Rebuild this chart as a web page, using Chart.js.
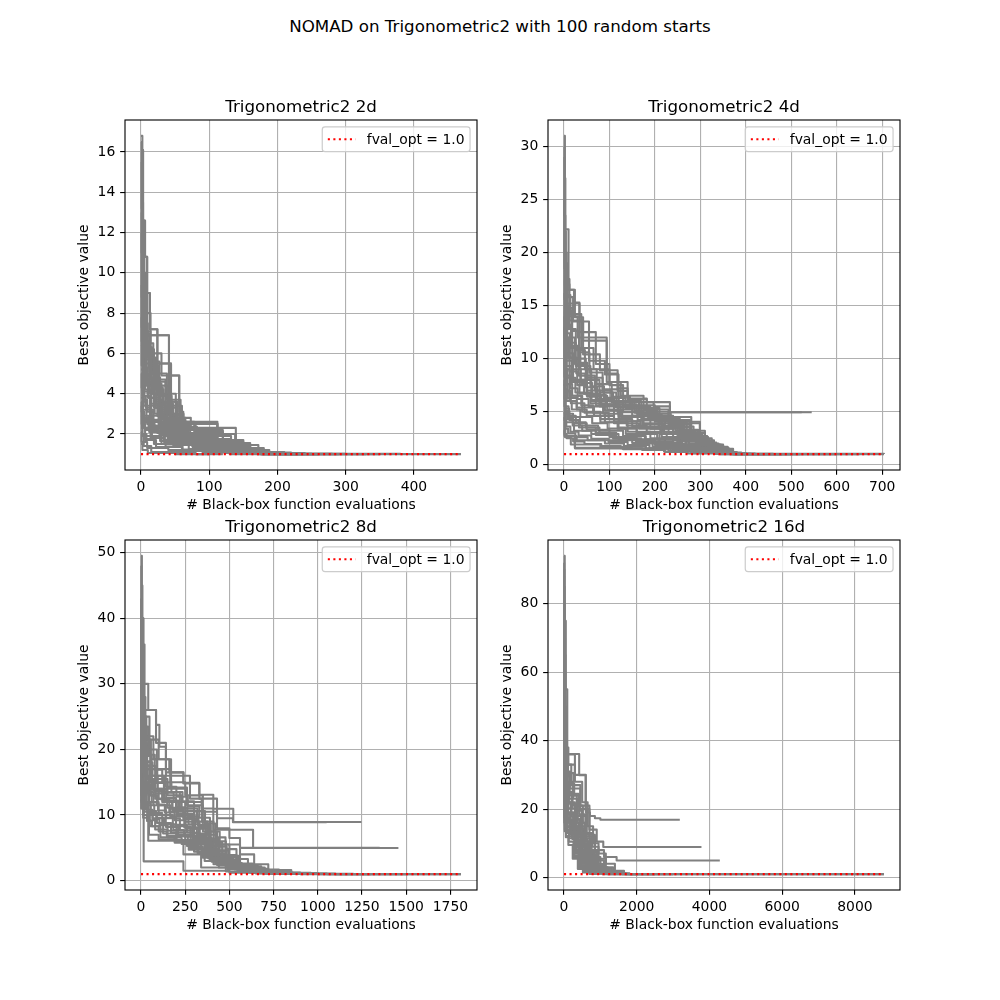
<!DOCTYPE html>
<html><head><meta charset="utf-8">
<script src="https://cdn.jsdelivr.net/npm/chart.js@4.4.1/dist/chart.umd.min.js"></script>
<style>
html,body{margin:0;padding:0;background:#fff;}
body{width:1000px;height:1000px;position:relative;overflow:hidden;font-family:"DejaVu Sans",sans-serif;}
#sup{position:absolute;left:0;width:1000px;top:18.4px;text-align:center;font-size:16.7px;line-height:1;color:#000;white-space:nowrap;}
canvas{position:absolute;}
</style></head><body>
<div id="sup">NOMAD on Trigonometric2 with 100 random starts</div>
<canvas id="c0"></canvas><canvas id="c1"></canvas><canvas id="c2"></canvas><canvas id="c3"></canvas>
<script>
// ---------------- data ----------------
const FVAL = 1.0;
const titles = ['Trigonometric2 2d','Trigonometric2 4d','Trigonometric2 8d','Trigonometric2 16d'];
const xLabel = '# Black-box function evaluations';
const yLabel = 'Best objective value';
const legendLabel = 'fval_opt = 1.0';

const ticks2dX = [0,100,200,300,400];
const ticks2dY = [2,4,6,8,10,12,14,16];
const ticks4dX = [0,100,200,300,400,500,600,700];
const ticks4dY = [0,5,10,15,20,25,30];
const ticks8dX = [0,250,500,750,1000,1250,1500,1750];
const ticks8dY = [0,10,20,30,40,50];
const ticks16dX = [0,2000,4000,6000,8000];
const ticks16dY = [0,20,40,60,80];

// each run: [evaluation, best value so far] at every improvement
const runs2d = [
 [[0,16.8],[2,16.1],[3,8.6],[7,4.4],[15,2.3],[35,1.6],[90,1.15],[160,1.03],[213,1.0],[469,1.0]],
 [[0,16.1],[3,12.6],[6,10.8],[9,6.9],[41,3.4],[60,2.2],[120,1.3],[180,1.02],[300,1.0]],
 [[0,12.6],[5,9.0],[13,7.2],[24,5.5],[44,2.5],[112,1.5],[150,1.05],[230,1.0]],
 [[0,10.8],[9,8.0],[14,6.0],[30,4.9],[56,2.6],[78,1.9],[132,1.2],[170,1.0],[260,1.0]],
 [[0,9.0],[13,7.2],[24,4.0],[51,3.0],[62,2.6],[112,1.6],[150,1.05],[210,1.0]],
 [[0,8.2],[6,6.9],[41,3.0],[62,2.3],[139,1.3],[174,1.02],[280,1.0]],
 [[0,7.5],[4,5.5],[44,4.9],[56,3.1],[62,2.5],[112,2.0],[139,1.1],[200,1.0]],
 [[0,6.8],[3,4.1],[20,3.6],[51,2.0],[138,1.7],[150,1.05],[240,1.0]],
 [[0,6.0],[2,3.2],[18,2.4],[40,1.8],[100,1.4],[160,1.04],[190,1.0]],
 [[0,5.2],[5,4.5],[30,3.9],[45,2.2],[85,1.75],[132,1.2],[175,1.0],[350,1.0]],
 [[0,4.6],[4,3.4],[25,2.9],[35,2.0],[75,1.5],[120,1.1],[200,1.0]],
 [[0,3.8],[3,2.6],[12,2.1],[55,1.6],[95,1.3],[150,1.08],[220,1.0]],
 [[0,3.0],[2,1.9],[30,1.5],[70,1.25],[140,1.05],[180,1.0]],
 [[0,2.4],[6,1.7],[22,1.35],[60,1.15],[130,1.0],[160,1.0]],
 [[0,1.9],[4,1.4],[15,1.1],[80,1.0],[120,1.0]],
 [[0,1.5],[2,1.2],[10,1.05],[50,1.0],[100,1.0]],
 [[0,14.2],[2,7.8],[8,5.0],[20,3.0],[48,1.9],[100,1.3],[165,1.02],[250,1.0]],
 [[0,13.5],[3,10.0],[7,7.0],[12,4.5],[28,2.8],[65,1.8],[105,1.2],[185,1.0],[330,1.0]],
 [[0,11.5],[4,6.3],[16,5.0],[38,3.7],[58,2.2],[98,1.45],[172,1.05],[215,1.0]],
 [[0,9.8],[5,5.8],[22,4.6],[36,3.3],[52,1.85],[90,1.55],[145,1.1],[190,1.0]],
 [[0,8.6],[7,7.1],[14,4.8],[28,3.0],[42,2.1],[70,1.6],[118,1.15],[178,1.0],[290,1.0]],
 [[0,7.0],[3,6.2],[19,4.3],[32,2.7],[48,2.4],[72,1.7],[128,1.12],[185,1.0]],
 [[0,5.6],[3,5.0],[10,3.8],[26,2.5],[68,1.9],[110,1.5],[155,1.05],[205,1.0]],
 [[0,4.2],[2,3.6],[8,2.8],[16,2.3],[45,1.7],[88,1.35],[135,1.06],[170,1.0]],
 [[0,3.4],[1,2.9],[11,2.2],[27,1.95],[64,1.45],[105,1.2],[160,1.0],[240,1.0]],
 [[0,2.7],[4,2.3],[14,1.8],[34,1.55],[78,1.3],[125,1.1],[195,1.0]],
 [[0,2.1],[1,1.6],[9,1.3],[40,1.2],[90,1.1],[150,1.0]],
 [[0,12.0],[1,6.6],[4,3.9],[13,2.6],[33,1.7],[75,1.4],[115,1.1],[168,1.02],[380,1.0]],
 [[0,15.5],[1,11.0],[4,7.5],[10,5.8],[19,3.3],[37,2.2],[66,1.5],[108,1.15],[176,1.0],[230,1.0]],
 [[0,14.8],[2,9.5],[5,6.6],[11,5.3],[21,4.2],[33,3.5],[47,2.35],[82,1.65],[127,1.2],[182,1.0]],
 [[0,13.0],[1,8.8],[3,6.4],[8,4.7],[17,4.0],[29,3.2],[43,2.6],[67,1.8],[112,1.25],[165,1.0]],
 [[0,11.0],[2,7.9],[6,6.1],[12,5.1],[23,3.9],[39,2.9],[57,2.0],[95,1.5],[146,1.08],[198,1.0],[260,1.0]],
 [[0,10.2],[3,7.6],[8,6.5],[18,5.6],[27,4.4],[40,3.6],[53,2.8],[73,2.2],[100,1.7],[142,1.2],[188,1.0]],
 [[0,9.4],[1,7.3],[5,5.9],[14,5.4],[25,4.7],[36,3.0],[50,2.5],[80,2.1],[120,1.55],[160,1.1],[210,1.0]],
 [[0,8.8],[2,6.7],[7,5.7],[16,4.5],[27,3.4],[38,2.4],[60,1.9],[96,1.4],[137,1.1],[180,1.0]],
 [[0,7.8],[1,6.4],[4,5.3],[9,4.6],[20,3.7],[31,3.1],[43,2.3],[66,1.7],[103,1.35],[148,1.05],[195,1.0]],
 [[0,7.2],[2,5.9],[6,4.9],[13,4.0],[23,3.5],[35,2.8],[49,2.0],[77,1.6],[116,1.25],[158,1.0]],
 [[0,6.4],[1,5.4],[5,4.6],[11,3.8],[21,3.3],[30,2.6],[44,1.95],[63,1.65],[99,1.3],[140,1.05],[185,1.0]],
 [[0,5.9],[2,4.8],[6,4.2],[15,3.5],[24,2.9],[37,2.3],[54,1.75],[86,1.4],[126,1.15],[170,1.0]],
 [[0,5.0],[1,4.3],[4,3.7],[9,3.1],[18,2.7],[29,2.2],[46,1.8],[72,1.5],[110,1.2],[150,1.0]],
 [[0,4.4],[2,3.9],[7,3.3],[14,2.9],[26,2.4],[41,2.0],[62,1.55],[93,1.3],[136,1.1],[176,1.0]],
 [[0,3.6],[1,3.1],[5,2.7],[12,2.4],[24,2.05],[39,1.75],[58,1.45],[87,1.25],[124,1.05],[165,1.0]],
 [[0,3.2],[3,2.8],[9,2.5],[20,2.15],[33,1.9],[52,1.6],[81,1.35],[118,1.15],[160,1.0]],
 [[0,2.9],[1,2.5],[6,2.2],[16,1.85],[28,1.65],[47,1.45],[76,1.28],[113,1.08],[155,1.0]],
 [[0,2.3],[2,2.0],[8,1.75],[19,1.5],[36,1.38],[61,1.22],[98,1.1],[140,1.0]],
 [[0,16.5],[1,13.2],[2,10.2],[4,8.1],[8,6.3],[14,4.7],[26,3.6],[42,2.7],[64,2.05],[101,1.6],[133,1.3],[164,1.06],[205,1.0]]
];

const runs4d = [
 [[0,31.0],[2,22.2],[10,17.0],[12,16.5],[22,15.3],[34,9.0],[60,6.0],[120,3.5],[250,1.8],[350,1.2],[380,1.0],[704,1.0]],
 [[0,27.0],[3,16.5],[24,13.9],[42,11.7],[94,7.8],[140,5.9],[197,5.5],[233,4.95],[545,4.95]],
 [[0,22.0],[4,17.5],[12,13.6],[42,10.4],[79,8.9],[118,6.96],[140,6.24],[182,5.9],[233,4.95],[523,4.95]],
 [[0,19.0],[3,14.0],[30,12.0],[55,9.8],[90,8.5],[120,6.0],[170,4.2],[277,3.0],[310,2.0],[340,1.3],[372,1.02],[460,1.0]],
 [[0,17.0],[5,15.2],[34,12.5],[70,9.5],[100,7.5],[130,5.6],[200,4.05],[299,2.0],[330,1.4],[370,1.0],[600,1.0]],
 [[0,15.0],[2,10.5],[20,8.0],[50,6.5],[95,5.2],[150,4.6],[233,3.8],[277,2.6],[317,1.5],[360,1.05],[420,1.0]],
 [[0,13.0],[1,9.0],[12,6.5],[40,5.0],[80,4.3],[150,3.6],[220,2.9],[265,2.2],[317,1.3],[365,1.0],[500,1.0]],
 [[0,11.0],[2,8.2],[25,6.8],[60,6.1],[110,5.7],[160,4.8],[210,3.4],[260,2.4],[300,1.6],[355,1.05],[390,1.0]],
 [[0,9.5],[3,7.0],[15,5.8],[45,4.9],[90,4.0],[140,3.1],[190,2.5],[250,1.9],[320,1.2],[370,1.0]],
 [[0,8.0],[1,5.5],[10,4.5],[35,3.7],[75,3.2],[130,2.7],[180,2.2],[240,1.7],[300,1.25],[345,1.0],[440,1.0]],
 [[0,6.5],[2,4.8],[20,3.9],[50,3.3],[100,2.6],[160,2.1],[220,1.75],[290,1.3],[350,1.05],[380,1.0]],
 [[0,5.5],[4,4.0],[22,3.2],[60,2.9],[120,2.4],[200,1.9],[260,1.5],[330,1.1],[375,1.0]],
 [[0,4.5],[1,2.7],[24,1.54],[150,1.5],[240,1.3],[330,1.05],[360,1.0]],
 [[0,3.8],[3,2.7],[28,2.3],[200,1.9],[265,1.4],[340,1.08],[372,1.0],[520,1.0]],
 [[0,3.0],[2,2.6],[15,1.9],[80,1.7],[180,1.55],[280,1.2],[360,1.0]],
 [[0,2.7],[24,1.6],[130,1.45],[220,1.25],[320,1.05],[350,1.0]],
 [[0,24.0],[2,19.0],[8,15.8],[20,13.5],[55,12.0],[94,8.6],[118,7.2],[140,6.2],[182,5.0],[230,3.9],[299,2.3],[330,1.5],[372,1.02],[704,1.0]],
 [[0,21.0],[3,16.0],[14,14.2],[38,11.0],[65,9.0],[100,7.8],[125,6.5],[175,5.2],[230,4.5],[280,3.2],[310,1.9],[350,1.15],[390,1.0]],
 [[0,18.0],[2,12.8],[18,10.0],[48,8.2],[85,6.8],[115,5.5],[165,4.7],[215,3.7],[265,2.8],[305,1.8],[345,1.1],[375,1.0],[650,1.0]],
 [[0,16.0],[4,11.5],[26,9.3],[58,7.4],[88,6.3],[135,5.3],[185,4.4],[240,3.5],[280,2.5],[325,1.7],[360,1.1],[400,1.0]],
 [[0,14.0],[1,12.0],[9,10.0],[32,8.4],[68,7.0],[104,5.9],[155,5.1],[205,4.25],[255,3.3],[295,2.1],[335,1.35],[365,1.0]],
 [[0,12.0],[2,9.8],[17,7.9],[44,6.7],[78,5.5],[125,4.5],[175,3.9],[230,3.0],[275,2.0],[315,1.4],[355,1.02],[410,1.0]],
 [[0,10.0],[1,7.5],[8,6.3],[28,5.4],[66,4.6],[110,3.9],[165,3.4],[215,2.6],[270,1.8],[312,1.2],[350,1.0]],
 [[0,7.2],[2,5.1],[12,4.2],[33,3.5],[70,3.0],[112,2.5],[170,2.0],[230,1.6],[290,1.15],[340,1.0],[480,1.0]],
 [[0,29.0],[1,20.0],[6,14.5],[16,11.0],[36,8.0],[70,5.6],[110,4.1],[160,3.0],[210,2.1],[260,1.5],[330,1.03],[370,1.0]],
 [[0,26.0],[2,18.0],[7,12.0],[24,9.5],[50,7.0],[80,5.7],[120,4.6],[190,3.4],[240,2.3],[300,1.4],[360,1.0]],
 [[0,30.0],[1,23.5],[3,17.8],[8,14.8],[18,12.6],[33,10.6],[56,8.7],[85,7.1],[120,6.0],[165,5.35],[210,4.3],[255,3.1],[290,2.2],[325,1.5],[358,1.1],[385,1.0]],
 [[0,25.0],[1,18.5],[4,15.0],[11,12.8],[26,10.8],[46,9.0],[72,7.6],[105,6.4],[145,5.5],[190,4.8],[235,4.0],[270,3.0],[300,2.2],[330,1.6],[362,1.05],[395,1.0]],
 [[0,23.0],[2,16.8],[6,13.2],[15,11.2],[31,9.6],[52,8.0],[78,6.8],[108,5.9],[150,5.3],[195,4.6],[240,3.6],[285,2.7],[315,1.9],[345,1.3],[370,1.0]],
 [[0,20.0],[1,15.6],[5,12.4],[13,10.1],[27,8.6],[47,7.3],[73,6.2],[110,5.45],[155,4.9],[205,4.1],[245,3.2],[285,2.35],[320,1.7],[352,1.15],[380,1.0]],
 [[0,17.5],[2,13.4],[7,11.0],[19,9.0],[37,7.7],[62,6.6],[92,5.7],[130,5.0],[175,4.35],[222,3.5],[262,2.6],[300,1.95],[335,1.3],[368,1.0]],
 [[0,16.2],[1,12.2],[4,10.3],[12,8.8],[29,7.5],[51,6.4],[82,5.6],[118,4.95],[162,4.2],[208,3.6],[250,2.8],[290,2.0],[325,1.45],[360,1.05],[390,1.0]],
 [[0,14.5],[2,11.3],[6,9.3],[16,7.8],[34,6.7],[58,5.8],[90,5.1],[128,4.5],[172,3.8],[218,3.1],[258,2.4],[296,1.8],[332,1.25],[365,1.0]],
 [[0,12.8],[1,10.2],[5,8.4],[14,7.2],[30,6.2],[54,5.5],[86,4.8],[122,4.1],[168,3.5],[212,2.9],[255,2.2],[292,1.6],[328,1.15],[362,1.0]],
 [[0,11.5],[2,9.1],[7,7.6],[18,6.5],[38,5.6],[64,4.9],[98,4.3],[138,3.7],[182,3.1],[226,2.5],[268,1.9],[305,1.4],[342,1.05],[370,1.0]],
 [[0,10.3],[1,8.3],[4,6.9],[12,6.0],[28,5.2],[50,4.6],[80,4.0],[118,3.4],[160,2.9],[205,2.35],[250,1.85],[292,1.4],[335,1.08],[365,1.0]],
 [[0,8.8],[2,7.1],[6,6.0],[17,5.2],[36,4.5],[62,3.9],[96,3.4],[136,2.9],[178,2.4],[222,1.95],[265,1.55],[310,1.2],[350,1.0]],
 [[0,7.6],[1,6.2],[4,5.3],[11,4.6],[26,4.0],[48,3.5],[78,3.0],[115,2.6],[158,2.2],[202,1.8],[248,1.45],[295,1.15],[338,1.0]],
 [[0,6.0],[2,5.0],[7,4.3],[19,3.7],[40,3.2],[70,2.8],[108,2.45],[150,2.05],[195,1.7],[240,1.4],[288,1.12],[330,1.0]],
 [[0,5.0],[1,4.2],[5,3.6],[14,3.1],[32,2.75],[60,2.45],[98,2.15],[140,1.85],[188,1.55],[235,1.3],[285,1.1],[325,1.0]],
 [[0,4.0],[2,3.4],[9,2.95],[25,2.6],[52,2.3],[90,2.0],[132,1.75],[180,1.5],[230,1.28],[280,1.08],[320,1.0]],
 [[0,3.3],[1,2.9],[6,2.5],[20,2.2],[45,1.95],[82,1.75],[125,1.55],[172,1.38],[222,1.2],[272,1.05],[315,1.0]]
];

const runs8d = [
 [[0,49.5],[5,40.0],[13,30.0],[41,26.0],[85,23.75],[104,20.4],[141,16.5],[240,14.9],[330,13.1],[409,10.96],[522,8.94],[1247,8.94]],
 [[0,45.0],[8,36.0],[20,26.0],[85,21.0],[141,16.0],[277,12.5],[343,11.0],[409,7.77],[634,4.97],[1456,4.97]],
 [[0,40.0],[13,14.0],[15,2.94],[240,1.5],[500,1.2],[800,1.05],[1100,1.0],[1810,1.0]],
 [[0,38.0],[6,28.0],[25,22.0],[70,18.5],[160,16.5],[240,14.8],[330,12.5],[430,9.5],[520,8.9],[1050,8.9]],
 [[0,35.0],[3,24.0],[20,19.0],[60,15.5],[150,14.0],[260,11.5],[350,7.5],[430,5.5],[560,5.0],[1350,5.0]],
 [[0,32.0],[4,22.0],[18,17.0],[50,14.0],[120,12.0],[200,10.0],[300,6.5],[400,3.5],[520,2.2],[650,1.5],[800,1.1],[1000,1.0],[1500,1.0]],
 [[0,30.0],[2,20.0],[15,16.0],[41,6.09],[240,4.0],[340,2.0],[480,1.4],[700,1.1],[900,1.0]],
 [[0,28.0],[3,21.0],[22,18.0],[65,16.0],[130,13.5],[220,11.0],[300,8.0],[380,5.2],[460,3.0],[560,2.0],[700,1.4],[850,1.05],[1100,1.0]],
 [[0,26.0],[5,19.0],[30,15.0],[80,12.5],[160,10.5],[250,9.0],[330,6.2],[410,3.8],[500,2.4],[620,1.6],[780,1.1],[1000,1.0]],
 [[0,24.0],[2,18.5],[12,14.0],[45,12.0],[100,10.0],[180,8.3],[280,6.8],[360,4.5],[440,2.8],[560,1.8],[700,1.25],[900,1.0],[1300,1.0]],
 [[0,22.0],[4,16.5],[25,13.5],[70,11.5],[140,9.5],[220,7.6],[300,5.5],[390,3.2],[480,2.1],[600,1.5],[760,1.1],[950,1.0]],
 [[0,20.0],[3,15.0],[20,12.0],[55,10.3],[120,8.6],[200,7.0],[290,5.8],[370,4.0],[450,2.6],[540,1.9],[680,1.3],[850,1.0]],
 [[0,18.0],[2,14.5],[14,11.5],[40,10.0],[90,8.8],[170,7.3],[250,6.2],[340,4.8],[420,3.3],[510,2.3],[640,1.6],[800,1.1],[1000,1.0]],
 [[0,16.5],[1,13.0],[10,11.0],[35,9.2],[80,7.8],[150,6.6],[230,5.6],[320,4.2],[400,2.9],[480,2.0],[600,1.45],[750,1.05],[1200,1.0]],
 [[0,14.5],[2,12.0],[18,10.5],[50,8.3],[110,6.6],[190,5.8],[270,4.7],[350,3.5],[430,2.4],[530,1.7],[680,1.2],[860,1.0]],
 [[0,12.3],[1,11.0],[12,9.6],[45,7.0],[100,6.3],[200,6.0],[300,4.4],[360,3.0],[440,2.0],[560,1.5],[720,1.1],[900,1.0]],
 [[0,42.0],[4,33.0],[16,25.0],[48,21.5],[100,18.5],[170,15.0],[250,13.0],[350,10.5],[430,8.0],[500,6.5],[560,4.0],[640,2.5],[720,1.6],[850,1.1],[1050,1.0],[1810,1.0]],
 [[0,36.0],[3,27.0],[12,23.5],[40,20.0],[90,17.0],[165,14.2],[260,12.0],[345,9.0],[410,6.0],[480,3.6],[560,2.3],[660,1.6],[800,1.15],[1000,1.0]],
 [[0,33.0],[2,26.0],[10,20.5],[35,17.5],[80,15.0],[150,13.0],[230,11.0],[320,8.5],[395,5.8],[460,3.9],[540,2.5],[640,1.7],[780,1.2],[960,1.0]],
 [[0,27.0],[1,22.5],[8,18.0],[28,15.5],[68,13.8],[130,12.2],[210,10.2],[290,7.2],[370,4.9],[440,3.4],[510,2.2],[620,1.55],[760,1.15],[920,1.0]],
 [[0,23.0],[2,17.5],[15,14.8],[42,13.0],[95,11.5],[165,9.8],[245,8.1],[325,6.0],[400,4.1],[470,2.9],[550,1.95],[680,1.35],[830,1.05],[1000,1.0]],
 [[0,19.0],[1,15.5],[9,13.0],[30,11.5],[75,10.0],[140,8.2],[210,6.8],[280,5.2],[350,3.9],[420,2.7],[500,1.8],[620,1.3],[790,1.0]],
 [[0,15.5],[1,13.5],[8,12.0],[28,10.8],[65,9.5],[125,7.2],[200,6.2],[275,5.0],[345,3.6],[410,2.5],[490,1.75],[610,1.25],[770,1.0]],
 [[0,48.0],[2,37.0],[6,30.0],[14,25.0],[30,21.5],[56,18.5],[92,16.0],[140,14.3],[200,12.8],[265,11.3],[330,9.6],[390,7.5],[445,5.5],[500,3.8],[560,2.6],[630,1.8],[720,1.3],[840,1.05],[1000,1.0]],
 [[0,43.0],[1,33.5],[5,27.0],[13,22.8],[28,19.6],[52,17.0],[86,14.9],[130,13.4],[185,12.0],[250,10.6],[315,9.0],[375,7.0],[430,5.2],[485,3.6],[545,2.5],[615,1.75],[700,1.25],[820,1.0]],
 [[0,39.0],[2,30.5],[6,24.5],[15,21.0],[32,18.2],[58,16.0],[95,14.0],[142,12.6],[198,11.2],[262,9.8],[325,8.3],[385,6.4],[440,4.6],[495,3.2],[555,2.2],[630,1.55],[720,1.15],[850,1.0]],
 [[0,34.0],[1,27.5],[4,22.5],[12,19.5],[27,17.0],[50,15.0],[82,13.3],[125,12.0],[178,10.7],[240,9.4],[305,7.9],[365,6.1],[420,4.4],[478,3.0],[540,2.05],[610,1.5],[700,1.1],[820,1.0]],
 [[0,31.0],[2,25.0],[7,20.5],[17,17.8],[36,15.7],[62,13.9],[100,12.4],[148,11.1],[205,9.9],[268,8.6],[332,7.1],[390,5.4],[445,3.9],[505,2.7],[570,1.85],[650,1.35],[750,1.05],[900,1.0]],
 [[0,29.0],[1,23.0],[5,19.0],[14,16.5],[31,14.6],[56,13.0],[90,11.6],[135,10.4],[190,9.2],[252,7.9],[316,6.5],[375,4.9],[432,3.5],[490,2.45],[555,1.7],[635,1.25],[730,1.0]],
 [[0,25.0],[2,20.5],[6,17.2],[16,15.0],[34,13.3],[60,11.9],[96,10.7],[142,9.6],[198,8.5],[260,7.3],[322,6.0],[380,4.6],[436,3.3],[494,2.3],[560,1.65],[640,1.2],[740,1.0]],
 [[0,21.0],[1,17.6],[5,15.0],[13,13.2],[29,11.8],[53,10.6],[86,9.6],[130,8.6],[183,7.7],[244,6.7],[306,5.6],[365,4.3],[422,3.1],[480,2.2],[545,1.6],[625,1.18],[720,1.0]],
 [[0,17.0],[2,14.8],[7,12.9],[18,11.6],[38,10.4],[66,9.4],[104,8.5],[150,7.6],[205,6.8],[265,5.9],[326,4.9],[384,3.8],[440,2.8],[500,2.0],[566,1.5],[650,1.12],[760,1.0]],
 [[0,13.5],[1,12.2],[5,11.0],[15,10.0],[34,9.1],[62,8.3],[100,7.5],[146,6.8],[200,6.1],[260,5.3],[322,4.4],[380,3.4],[438,2.5],[498,1.85],[565,1.4],[650,1.08],[760,1.0]],
 [[0,40.0],[3,31.0],[9,25.5],[22,22.0],[45,19.2],[78,16.9],[120,15.0],[172,13.5],[235,12.1],[300,10.6],[362,8.7],[420,6.6],[478,4.8],[540,3.3],[605,2.2],[680,1.5],[780,1.1],[950,1.0]],
 [[0,37.0],[1,29.0],[4,23.8],[11,20.3],[25,17.6],[47,15.4],[79,13.6],[122,12.2],[176,10.9],[240,9.6],[305,8.1],[366,6.3],[424,4.6],[482,3.2],[545,2.2],[620,1.55],[710,1.12],[840,1.0]]
];

const runs16d = [
 [[0,94.0],[20,75.0],[50,55.0],[90,36.1],[417,29.9],[595,20.0],[700,12.0],[850,6.0],[1000,3.0],[1200,1.6],[1500,1.1],[1800,1.0],[8800,1.0]],
 [[0,85.0],[15,65.0],[40,48.0],[80,36.0],[300,30.0],[600,19.0],[714,18.0],[850,17.3],[1000,16.9],[3185,16.9]],
 [[0,78.0],[12,60.0],[35,44.0],[70,33.0],[200,27.0],[450,21.0],[700,14.0],[900,10.5],[1080,8.9],[3780,8.9]],
 [[0,70.0],[10,52.0],[30,40.0],[60,30.0],[150,24.0],[350,18.0],[600,12.5],[850,8.0],[1100,6.0],[1447,4.95],[4285,4.95]],
 [[0,65.0],[8,50.0],[25,38.0],[55,28.0],[130,22.0],[300,17.0],[500,13.0],[700,7.5],[900,3.5],[1100,2.0],[1350,1.3],[1700,1.0],[3000,1.0]],
 [[0,58.0],[6,45.0],[20,34.0],[50,25.0],[110,19.0],[250,15.0],[450,11.0],[650,6.0],[800,3.0],[1000,1.7],[1300,1.15],[1600,1.0],[2500,1.0]],
 [[0,52.0],[5,40.0],[18,31.0],[45,23.0],[100,17.0],[220,14.0],[400,10.0],[600,5.0],[750,2.5],[950,1.5],[1250,1.05],[1500,1.0]],
 [[0,47.0],[4,37.0],[15,28.0],[40,21.0],[90,16.0],[200,13.5],[380,9.0],[560,4.5],[700,2.2],[900,1.4],[1200,1.0],[2000,1.0]],
 [[0,42.0],[3,33.0],[12,25.0],[35,19.0],[80,15.0],[180,13.0],[350,8.0],[520,4.0],[680,2.0],[860,1.3],[1100,1.0]],
 [[0,38.0],[2,30.0],[10,23.0],[30,17.5],[70,14.0],[160,12.5],[320,7.5],[480,3.6],[640,1.9],[820,1.25],[1050,1.0],[1800,1.0]],
 [[0,34.0],[2,27.0],[9,21.0],[28,16.0],[65,13.6],[150,12.0],[300,7.0],[450,3.2],[600,1.8],[780,1.2],[1000,1.0]],
 [[0,30.0],[1,25.0],[8,19.0],[25,15.0],[60,13.0],[140,11.5],[280,6.5],[420,3.0],[570,1.7],[750,1.15],[950,1.0]],
 [[0,26.0],[1,22.0],[7,17.5],[22,14.0],[55,12.2],[130,10.5],[260,6.0],[400,2.8],[540,1.6],[720,1.1],[900,1.0]],
 [[0,23.0],[1,20.0],[6,16.0],[20,13.5],[50,11.8],[120,9.5],[240,5.5],[380,2.5],[520,1.5],[700,1.05],[880,1.0]],
 [[0,90.0],[10,70.0],[30,50.0],[60,38.0],[120,33.0],[300,28.0],[500,22.0],[650,15.0],[800,10.0],[950,7.0],[1150,4.0],[1400,2.0],[1650,1.2],[1800,1.0],[8800,1.0]],
 [[0,80.0],[8,62.0],[25,46.0],[55,35.0],[110,30.5],[260,26.0],[450,20.0],[620,13.0],[780,9.0],[950,5.5],[1150,3.0],[1350,1.6],[1600,1.1],[1750,1.0]],
 [[0,72.0],[6,55.0],[20,42.0],[48,32.0],[100,28.0],[240,24.0],[420,18.5],[590,12.0],[760,8.0],[920,5.0],[1100,2.6],[1300,1.5],[1550,1.05],[1700,1.0]],
 [[0,62.0],[5,48.0],[18,37.0],[42,29.0],[90,25.0],[210,21.0],[380,16.0],[560,10.5],[720,6.5],[880,4.0],[1050,2.2],[1250,1.4],[1500,1.0]],
 [[0,55.0],[4,43.0],[15,33.0],[38,26.5],[85,22.0],[190,18.5],[350,14.5],[520,9.0],[680,5.5],[840,3.2],[1000,1.9],[1200,1.2],[1450,1.0]],
 [[0,45.0],[3,36.0],[12,28.5],[32,22.5],[75,19.0],[170,16.0],[320,13.0],[480,8.0],[640,4.8],[800,2.8],[960,1.7],[1150,1.15],[1400,1.0]],
 [[0,40.0],[2,32.0],[10,26.0],[30,20.5],[70,17.5],[160,15.5],[300,12.0],[460,7.0],[620,4.2],[780,2.5],[940,1.5],[1100,1.1],[1350,1.0]],
 [[0,36.0],[2,29.0],[9,23.5],[27,19.0],[65,16.5],[150,14.6],[290,11.0],[440,6.2],[600,3.8],[760,2.2],[920,1.4],[1080,1.05],[1300,1.0]],
 [[0,92.0],[5,72.0],[15,56.0],[35,44.0],[65,36.0],[110,31.0],[180,27.5],[280,24.5],[400,21.0],[520,16.0],[620,11.5],[720,8.0],[830,5.2],[950,3.2],[1100,2.0],[1280,1.35],[1500,1.05],[1700,1.0]],
 [[0,88.0],[4,68.0],[12,53.0],[30,42.0],[58,34.5],[100,29.5],[165,26.0],[255,23.0],[370,19.5],[490,15.0],[590,10.5],[690,7.2],[800,4.7],[920,2.9],[1060,1.8],[1230,1.25],[1450,1.0]],
 [[0,82.0],[3,63.0],[10,49.0],[26,39.0],[52,32.0],[92,27.5],[150,24.5],[235,21.5],[345,18.0],[460,14.0],[565,9.8],[665,6.6],[775,4.2],[895,2.6],[1035,1.7],[1200,1.2],[1420,1.0]],
 [[0,75.0],[3,58.0],[9,45.5],[23,36.5],[48,30.0],[85,25.8],[140,23.0],[220,20.2],[325,17.0],[435,13.2],[540,9.2],[640,6.1],[750,3.9],[870,2.4],[1010,1.6],[1175,1.15],[1400,1.0]],
 [[0,68.0],[2,53.0],[8,42.0],[21,34.0],[44,28.0],[78,24.2],[130,21.6],[205,19.0],[305,16.0],[412,12.5],[515,8.7],[615,5.7],[725,3.6],[845,2.2],[985,1.5],[1150,1.1],[1380,1.0]],
 [[0,60.0],[2,48.0],[7,38.5],[19,31.5],[40,26.0],[72,22.6],[120,20.2],[190,17.8],[285,15.0],[390,11.8],[492,8.2],[592,5.3],[700,3.3],[820,2.0],[960,1.4],[1125,1.05],[1350,1.0]],
 [[0,50.0],[1,41.0],[6,33.5],[17,28.0],[36,23.5],[66,20.5],[110,18.4],[175,16.4],[265,14.0],[365,11.0],[468,7.6],[568,4.9],[676,3.0],[796,1.85],[935,1.3],[1100,1.0]],
 [[0,44.0],[1,36.5],[5,30.0],[15,25.5],[33,21.8],[60,19.2],[102,17.3],[165,15.5],[250,13.3],[345,10.4],[445,7.2],[545,4.6],[652,2.8],[772,1.75],[910,1.25],[1075,1.0]],
 [[0,32.0],[1,27.5],[4,23.5],[13,20.5],[30,18.0],[56,16.2],[95,14.8],[155,13.5],[235,11.9],[325,9.5],[420,6.7],[520,4.3],[628,2.6],[748,1.65],[885,1.2],[1050,1.0]],
 [[0,28.0],[1,24.0],[4,21.0],[12,18.5],[28,16.4],[52,15.0],[90,13.8],[148,12.7],[225,11.3],[310,9.0],[400,6.3],[500,4.0],[605,2.45],[725,1.55],[860,1.15],[1020,1.0]]
];

// ---------------- drawing ----------------
const FONT = '"DejaVu Sans", sans-serif';
Chart.defaults.font.family = FONT;
Chart.defaults.font.size = 13.9;
Chart.defaults.color = '#000';

const W = 352, H = 350, PADL = 70, PADT = 40, PADR = 30, PADB = 50;
const panels = [
 {id:'c0', title:titles[0], runs:runs2d, xt:ticks2dX, yt:ticks2dY, L:125, T:120},
 {id:'c1', title:titles[1], runs:runs4d, xt:ticks4dX, yt:ticks4dY, L:548, T:120},
 {id:'c2', title:titles[2], runs:runs8d, xt:ticks8dX, yt:ticks8dY, L:125, T:540},
 {id:'c3', title:titles[3], runs:runs16d, xt:ticks16dX, yt:ticks16dY, L:548, T:540}
];

const decor = {
  id: 'decor',
  afterDraw(chart, args, opts) {
    const {ctx, chartArea: a} = chart;
    ctx.save();
    ctx.setLineDash([]);
    ctx.strokeStyle = '#000'; ctx.lineWidth = 1.11;
    ctx.strokeRect(a.left, a.top, a.right - a.left, a.bottom - a.top);
    ctx.fillStyle = '#000';
    ctx.font = '16.7px ' + FONT;
    ctx.textAlign = 'center'; ctx.textBaseline = 'alphabetic';
    ctx.fillText(opts.title, (a.left + a.right) / 2, a.top - 8.3);
    // legend
    ctx.font = '13.9px ' + FONT;
    const tw = ctx.measureText(legendLabel).width;
    const bw = 5.56 + 27.8 + 11.12 + tw + 5.56, bh = 24.6;
    const bx = a.right - 6.95 - bw, by = a.top + 6.95;
    ctx.beginPath();
    ctx.roundRect(bx, by, bw, bh, 2.8);
    ctx.fillStyle = 'rgba(255,255,255,0.8)'; ctx.fill();
    ctx.strokeStyle = '#cccccc'; ctx.lineWidth = 1.2; ctx.stroke();
    ctx.beginPath();
    ctx.setLineDash([2.08, 3.44]);
    ctx.strokeStyle = 'red'; ctx.lineWidth = 2.08; ctx.lineCap = 'butt';
    ctx.moveTo(bx + 5.56, by + bh / 2); ctx.lineTo(bx + 5.56 + 27.8, by + bh / 2);
    ctx.stroke();
    ctx.setLineDash([]);
    ctx.fillStyle = '#000'; ctx.textAlign = 'left'; ctx.textBaseline = 'alphabetic';
    ctx.fillText(legendLabel, bx + 5.56 + 27.8 + 11.12, by + bh / 2 + 4.3);
    ctx.restore();
  }
};

const gridOpts = {color:'#b0b0b0', lineWidth:1.11, tickColor:'#000', tickLength:4.86, drawTicks:true};

panels.forEach(p => {
  const cv = document.getElementById(p.id);
  cv.width = W + PADL + PADR; cv.height = H + PADT + PADB;
  cv.style.left = (p.L - PADL) + 'px'; cv.style.top = (p.T - PADT) + 'px';
  const xs = [], ys = [FVAL];
  p.runs.forEach(r => r.forEach(([x, y]) => { xs.push(x); ys.push(y); }));
  const xmin = Math.min(...xs), xmax = Math.max(...xs);
  const ymin = Math.min(...ys), ymax = Math.max(...ys);
  const dx = (xmax - xmin) * 0.05, dy = (ymax - ymin) * 0.05;
  const datasets = [{
    data: [{x: 0, y: FVAL}, {x: xmax, y: FVAL}],
    borderColor: 'red', borderWidth: 2.08, borderDash: [2.08, 3.44], pointRadius: 0, order: 0
  }];
  p.runs.forEach(r => datasets.push({
    data: r.map(([x, y]) => ({x, y})),
    borderColor: '#808080', borderWidth: 2.08, pointRadius: 0, stepped: true,
    borderJoinStyle: 'round', order: 1
  }));
  new Chart(cv, {
    type: 'line',
    data: {datasets},
    options: {
      responsive: false, animation: false, devicePixelRatio: 1,
      layout: {padding: {left: 0, top: PADT, right: PADR, bottom: 0}},
      plugins: {legend: {display: false}, tooltip: {enabled: false}, decor: {title: p.title}},
      scales: {
        x: {
          type: 'linear', min: xmin - dx, max: xmax + dx,
          afterBuildTicks: s => { s.ticks = p.xt.map(v => ({value: v})); },
          afterFit: s => { s.height = PADB; },
          grid: gridOpts, border: {display: false},
          ticks: {callback: v => String(v), padding: 4.2, maxRotation: 0, autoSkip: false, color: '#000'},
          title: {display: true, text: xLabel, color: '#000', padding: {top: 0, bottom: 6.46}}
        },
        y: {
          type: 'linear', min: ymin - dy, max: ymax + dy,
          afterBuildTicks: s => { s.ticks = p.yt.map(v => ({value: v})); },
          afterFit: s => { s.width = PADL; },
          grid: gridOpts, border: {display: false},
          ticks: {callback: v => String(v), padding: 4.86, autoSkip: false, color: '#000'},
          title: {display: true, text: yLabel, color: '#000', padding: {top: 21.26, bottom: 0}}
        }
      }
    },
    plugins: [decor]
  });
});
</script>
</body></html>
